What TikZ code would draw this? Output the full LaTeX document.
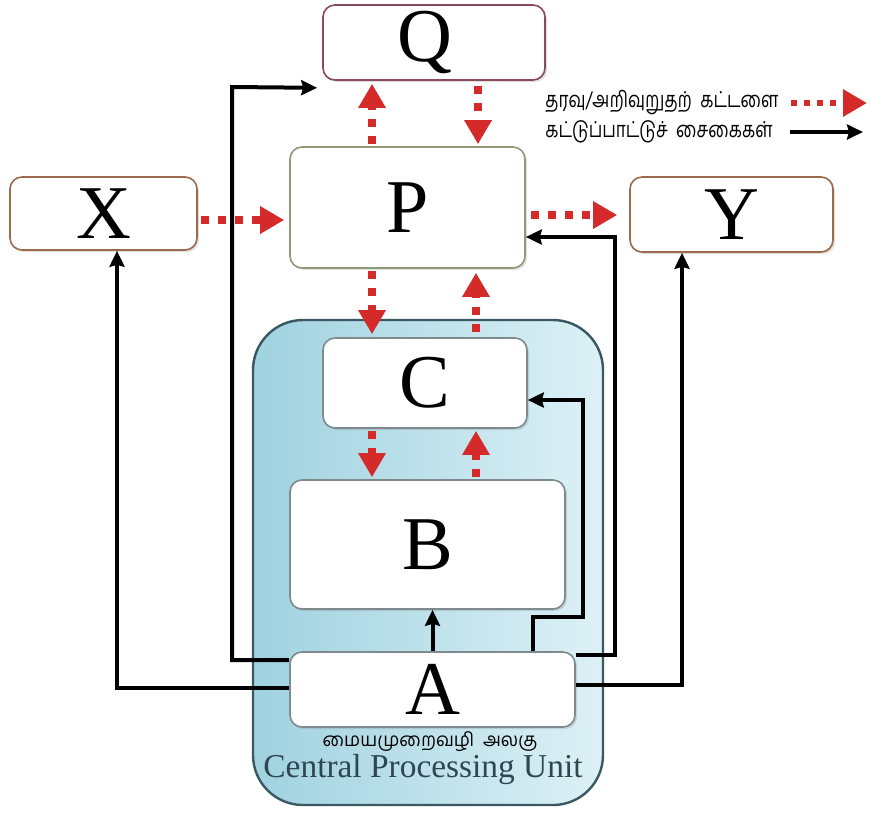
\documentclass[tikz,border=0pt]{standalone}
\usepackage{graphicx}
\usepackage{fontspec}
\setmainfont{Liberation Serif}
\newfontfamily\tamil[Script=Tamil]{Hind Madurai}
\usetikzlibrary{arrows.meta,calc,shadows}
\definecolor{redA}{HTML}{D42A2A}
\definecolor{qcol}{HTML}{8A4A5E}
\definecolor{pcol}{HTML}{8F9A78}
\definecolor{xcol}{HTML}{9C6A4C}
\definecolor{icol}{HTML}{7F8A8E}
\definecolor{cpuB}{HTML}{3A5862}
\definecolor{cpuL}{HTML}{A0D2E0}
\definecolor{cpuR}{HTML}{DDF1F6}
\definecolor{cpuT}{HTML}{2D4650}
\begin{document}
\begin{tikzpicture}[x=0.5pt,y=-0.5pt,
  box/.style={draw, rounded corners=6pt, fill=white, line width=0.8pt, inner sep=0pt,
    font=\fontsize{38}{40}\selectfont,
    drop shadow={opacity=0.25, shadow xshift=1pt, shadow yshift=-1pt}},
  reddash/.style={draw=redA, line width=4pt, dash pattern=on 4pt off 4.5pt,
    -{Triangle[length=12pt,width=13pt]}},
  ctrl/.style={draw=black, line width=2pt, -{Stealth[length=8pt,width=7.5pt,inset=1pt]}},
  legtext/.style={anchor=west, inner sep=0pt, font=\tamil\fontsize{11}{13}\selectfont}]
\useasboundingbox (0,0) rectangle (871,816);
% CPU
\node[draw=cpuB, line width=1.2pt, rounded corners=25pt, left color=cpuL, right color=cpuR,
  minimum width=175pt, minimum height=242.5pt, inner sep=0pt] (cpu) at (428,562.5) {};
% boxes
\node[box, draw=qcol, minimum width=111pt, minimum height=37.5pt] (Q) at (434,42.5) {\hspace*{-9pt}Q};
\node[box, draw=pcol, minimum width=117.5pt, minimum height=60.5pt] (P) at (407.5,207.5) {P};
\node[box, draw=xcol, minimum width=93.5pt, minimum height=36.5pt] (X) at (103.5,213.5) {X};
\node[box, draw=xcol, minimum width=101.5pt, minimum height=37.5pt] (Y) at (731.5,214.5) {Y};
\node[box, draw=icol, minimum width=102pt, minimum height=45pt] (C) at (425,383) {C};
\node[box, draw=icol, minimum width=137.5pt, minimum height=64.5pt] (B) at (427.5,544.5) {B};
\node[box, draw=icol, minimum width=142.5pt, minimum height=37.5pt] (A) at (432.5,689.5) {A};
% CPU labels
\node[inner sep=0pt, anchor=base, font=\tamil\fontsize{9.5}{11}\selectfont] (cput) at (430,746)
  {\scalebox{0.95}[1]{மையமுறைவழி\ \ அலகு}};
\node[inner sep=0pt, anchor=base, text=cpuT, font=\fontsize{16.7}{18}\selectfont] (cpue) at (423,777)
  {Central Processing Unit};
% red data arrows
\draw[reddash, shorten <=1.5pt, shorten >=2.5pt] (X.east |- 0,220) -- (P.west |- 0,220);
\draw[reddash, shorten <=2.5pt, shorten >=6pt] (P.east |- 0,215) -- (Y.west |- 0,215);
\draw[reddash, shorten <=1pt, shorten >=1.5pt] (372,0 |- P.north) -- (372,0 |- Q.south);
\draw[reddash, shorten <=2.5pt, shorten >=1pt] (478,0 |- Q.south) -- (478,0 |- P.north);
\draw[reddash, shorten <=1pt, shorten >=1.5pt] (372,0 |- P.south) -- (372,0 |- C.north);
\draw[reddash, shorten <=2.5pt, shorten >=2pt] (476,0 |- C.north) -- (476,0 |- P.south);
\draw[reddash, shorten <=1pt, shorten >=1pt] (372,0 |- C.south) -- (372,0 |- B.north);
\draw[reddash, shorten <=1pt, shorten >=1pt] (476,0 |- B.north) -- (476,0 |- C.south);
% control arrows
\draw[ctrl] (A.west |- 0,660) -| (232,87) -- ($(Q.south west)+(-5,7)$);
\draw[ctrl] (A.west |- 0,688) -| ($(X.south)+(13.5,0)$);
\draw[ctrl] (A.east |- 0,685) -| ($(Y.south)+(-49.5,0)$);
\draw[ctrl] ($(A.north east)+(0,4)$) -| (615,237) -- (615,237 -| P.east);
\draw[ctrl] (533,0 |- A.north) |- (583,617) -- (583,400) -- (583,400 -| C.east);
\draw[ctrl] (A.north) -- (A.north |- B.south);
% legend
\node[legtext] (l1) at (545,103) {\scalebox{0.78}[1]{தரவு/அறிவுறுதற்\ \ கட்டளை}};
\node[legtext] (l2) at (545,132) {\scalebox{0.78}[1]{கட்டுப்பாட்டுச்\ \ சைகைகள்}};
\coordinate (l1a) at (791,103);
\coordinate (l1b) at (867,103);
\coordinate (l2a) at (790,132);
\coordinate (l2b) at (863,132);
\draw[reddash, line width=3pt, dash pattern=on 3pt off 3.5pt] (l1a) -- (l1b);
\draw[ctrl] (l2a) -- (l2b);
\end{tikzpicture}
\end{document}
